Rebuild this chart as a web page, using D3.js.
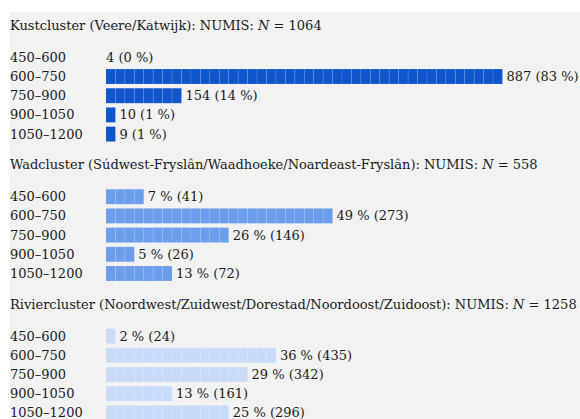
<!DOCTYPE html>
<html>
<head>
<meta charset="utf-8">
<script src="https://cdn.jsdelivr.net/npm/d3@7"></script>
<style>
  html, body { margin: 0; padding: 0; background: #fff; }
  svg { display: block; }
  text { font-family: "DejaVu Serif", serif; font-size: 13px; fill: #1a1a1a; }
</style>
</head>
<body>
<svg id="chart" width="580" height="419"></svg>
<script>
// bins on the left
const bins = ["450–600", "600–750", "750–900", "900–1050", "1050–1200"];

// cluster headers
const clusterNames = [
  "Kustcluster (Veere/Katwijk)",
  "Wadcluster (Súdwest-Fryslân/Waadhoeke/Noardeast-Fryslân)",
  "Riviercluster (Noordwest/Zuidwest/Dorestad/Noordoost/Zuidoost)"
];
const clusterN = [1064, 558, 1258];

// shown counts and percentages
const kustCounts = [4, 887, 154, 10, 9];
const kustPct = [0, 83, 14, 1, 1];
const wadCounts = [41, 273, 146, 26, 72];
const wadPct = [7, 49, 26, 5, 13];
const rivierCounts = [24, 435, 342, 161, 296];
const rivierPct = [2, 36, 29, 13, 25];

// bar length in blocks (one block per 2 %)
const kustBlocks = [0, 42, 8, 1, 1];
const wadBlocks = [4, 24, 13, 3, 7];
const rivierBlocks = [1, 18, 15, 7, 13];

const colors = ["#1155cc", "#6d9eeb", "#c9daf8"];

const clusters = [
  { name: clusterNames[0], n: clusterN[0], counts: kustCounts, pct: kustPct, blocks: kustBlocks, countFirst: true },
  { name: clusterNames[1], n: clusterN[1], counts: wadCounts, pct: wadPct, blocks: wadBlocks, countFirst: false },
  { name: clusterNames[2], n: clusterN[2], counts: rivierCounts, pct: rivierPct, blocks: rivierBlocks, countFirst: false }
];

const svg = d3.select("#chart");

svg.append("rect")
  .attr("x", 10).attr("y", 12)
  .attr("width", 570).attr("height", 407)
  .attr("fill", "#f2f2f2");

const x = d3.scaleLinear().domain([0, 42]).range([106, 502.5]);
const sectionY = d3.scaleLinear().domain([0, 1]).range([0, 139.4]);
// step ~19.2, bar 15
const y = d3.scaleBand().domain(bins).range([49.8, 141.6]).paddingInner(0.219).paddingOuter(0);

clusters.forEach((c, i) => {
  const g = svg.append("g").attr("transform", `translate(0,${sectionY(i)})`);

  const title = g.append("text").attr("x", 10).attr("y", 30);
  title.append("tspan").text(c.name + ": NUMIS: ");
  title.append("tspan").attr("font-style", "italic").text("N");
  title.append("tspan").text(" = " + c.n);

  const rows = g.selectAll(".row")
    .data(bins.map((b, j) => ({ bin: b, count: c.counts[j], pct: c.pct[j], blocks: c.blocks[j] })))
    .enter().append("g")
    .attr("class", "row")
    .attr("transform", d => `translate(0,${y(d.bin)})`);

  rows.append("text")
    .attr("x", 10)
    .attr("y", y.bandwidth() / 2 + 4.6)
    .text(d => d.bin);

  rows.selectAll(".block")
    .data(d => d3.range(d.blocks))
    .enter().append("rect")
    .attr("class", "block")
    .attr("x", k => x(k))
    .attr("y", 0)
    .attr("width", x(1) - x(0))
    .attr("height", y.bandwidth())
    .attr("fill", colors[i])
    .attr("stroke", "#ffffff")
    .attr("stroke-opacity", 0.12)
    .attr("stroke-width", 0.8);

  rows.append("text")
    .attr("x", d => d.blocks ? x(d.blocks) + 4 : x(0))
    .attr("y", y.bandwidth() / 2 + 4.6)
    .text(d => c.countFirst ? `${d.count} (${d.pct} %)` : `${d.pct} % (${d.count})`);
});
</script>
</body>
</html>
